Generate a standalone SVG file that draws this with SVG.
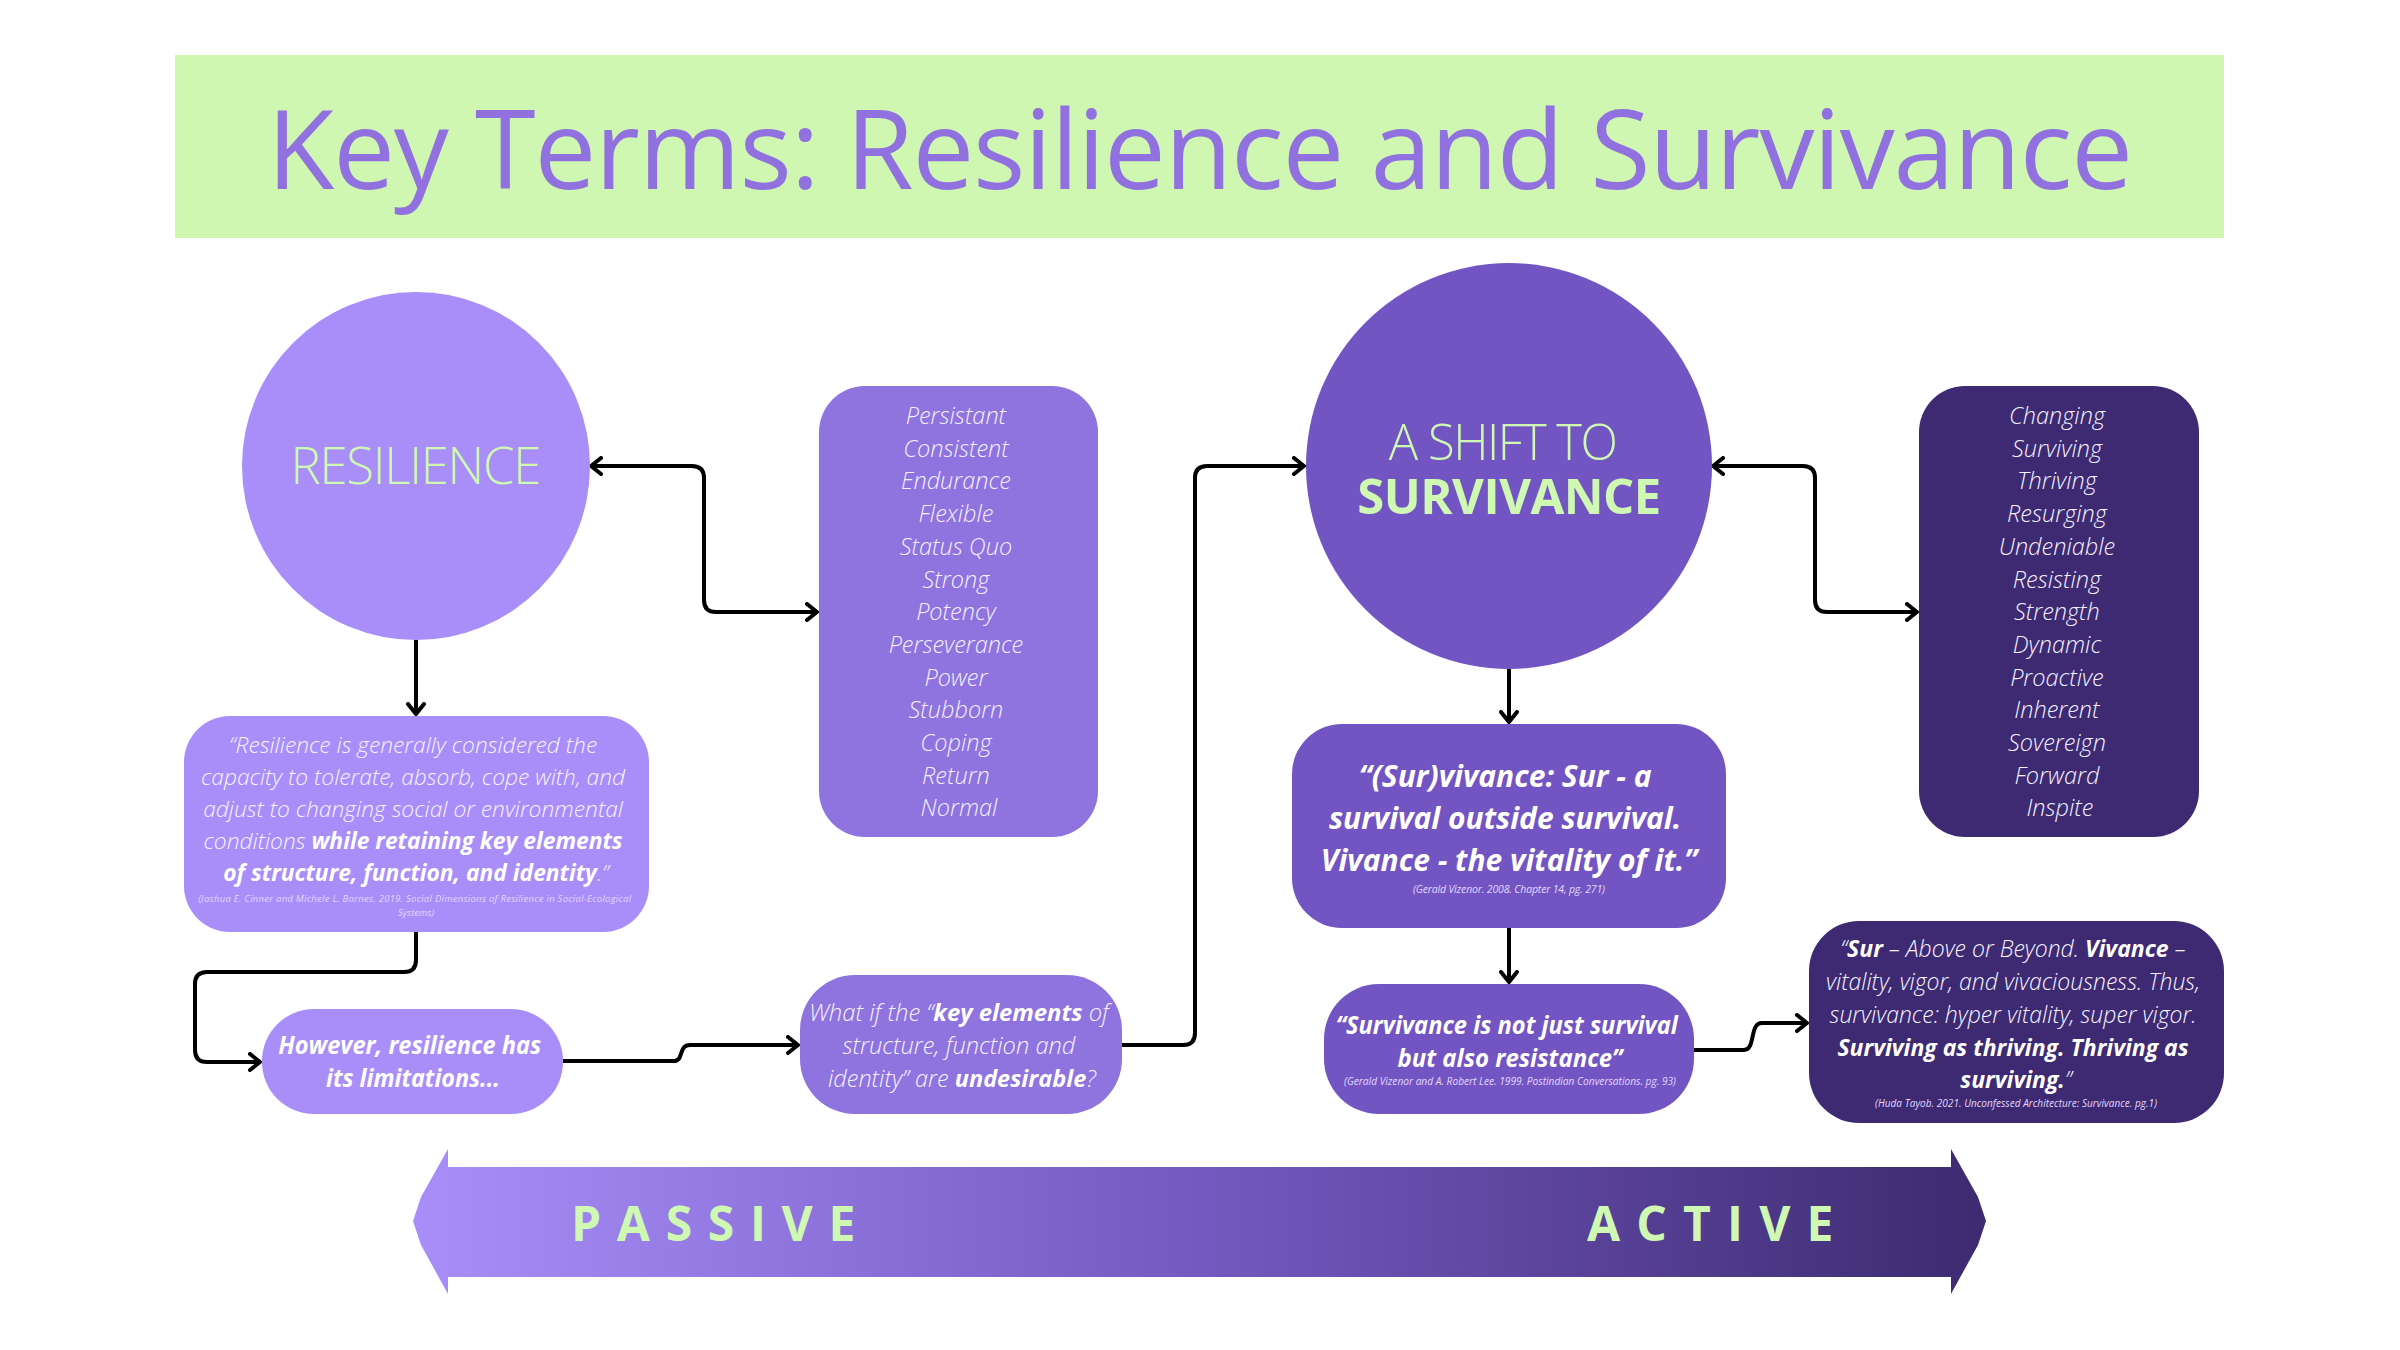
<svg xmlns="http://www.w3.org/2000/svg" width="2400" height="1350" viewBox="0 0 2400 1350">
<defs>
<style>
.f{font-family:'Open Sans','Liberation Sans',sans-serif}
.li{font-family:'Open Sans','Liberation Sans',sans-serif;font-style:italic;font-weight:300;fill:#f7f3ff}
.b{font-weight:700}
.bi{font-family:'Open Sans','Liberation Sans',sans-serif;font-style:italic;font-weight:700;fill:#ffffff}
.cit{font-family:'Open Sans','Liberation Sans',sans-serif;font-style:italic;font-weight:400;fill:#e2d8ff}
.adj{font-family:'Open Sans','Liberation Sans',sans-serif;font-style:italic;font-weight:300;fill:#f4f0ff;font-size:23.5px}
.green{fill:#cff8b2}
.conn{fill:none;stroke:#000;stroke-width:4;stroke-linejoin:round}
</style>
<marker id="ah" viewBox="0 0 14 20" refX="12" refY="10" markerWidth="14" markerHeight="20" markerUnits="userSpaceOnUse" orient="auto-start-reverse">
<path d="M2,2 L12,10 L2,18" fill="none" stroke="#000" stroke-width="4" stroke-linecap="round" stroke-linejoin="round"/>
</marker>
<linearGradient id="band" x1="0" y1="0" x2="1" y2="0">
<stop offset="0" stop-color="#a98ef9"/>
<stop offset="0.5" stop-color="#7459c0"/>
<stop offset="1" stop-color="#3d2a70"/>
</linearGradient>
</defs>
<rect width="2400" height="1350" fill="#ffffff"/>

<g id="title">
<rect x="175" y="55" width="2049" height="183" fill="#cff7b1"/>
<text class="f" x="1200" y="189" text-anchor="middle" font-size="110" fill="#9171df" textLength="1866">Key Terms: Resilience and Survivance</text>
</g>

<g id="connectors">
<path class="conn" d="M591,466 H692 Q704,466 704,478 V600 Q704,612 716,612 H817" marker-start="url(#ah)" marker-end="url(#ah)"/>
<path class="conn" d="M1713,466 H1803 Q1815,466 1815,478 V600 Q1815,612 1827,612 H1917" marker-start="url(#ah)" marker-end="url(#ah)"/>
<path class="conn" d="M416,640 V714" marker-end="url(#ah)"/>
<path class="conn" d="M416,932 V960 Q416,972 404,972 H207 Q195,972 195,984 V1050 Q195,1062 207,1062 H260" marker-end="url(#ah)"/>
<path class="conn" d="M563,1061 H674 C684,1061 678,1045 690,1045 H798" marker-end="url(#ah)"/>
<path class="conn" d="M1122,1045 H1183 Q1195,1045 1195,1033 V478 Q1195,466 1207,466 H1304" marker-end="url(#ah)"/>
<path class="conn" d="M1509,669 V722" marker-end="url(#ah)"/>
<path class="conn" d="M1509,928 V982" marker-end="url(#ah)"/>
<path class="conn" d="M1694,1050 H1744 C1756,1050 1749,1023 1762,1023 H1807" marker-end="url(#ah)"/>
</g>

<g id="resilience">
<circle cx="416" cy="466" r="174" fill="#a98ef9"/>
<text class="f green" x="416" y="484" text-anchor="middle" font-size="51" font-weight="300" textLength="251">RESILIENCE</text>
</g>

<g id="resilience-terms">
<rect x="819" y="386" width="279" height="451" rx="46" fill="#8f73df"/>
<text class="adj" text-anchor="middle">
<tspan x="959" y="424">Persistant</tspan>
<tspan x="959" y="457">Consistent</tspan>
<tspan x="959" y="489">Endurance</tspan>
<tspan x="959" y="522">Flexible</tspan>
<tspan x="959" y="555">Status Quo</tspan>
<tspan x="959" y="588">Strong</tspan>
<tspan x="959" y="620">Potency</tspan>
<tspan x="959" y="653">Perseverance</tspan>
<tspan x="959" y="686">Power</tspan>
<tspan x="959" y="718">Stubborn</tspan>
<tspan x="959" y="751">Coping</tspan>
<tspan x="959" y="784">Return</tspan>
<tspan x="959" y="816">Normal</tspan>
</text>
</g>

<g id="survivance">
<circle cx="1509" cy="466" r="203" fill="#7255c2"/>
<text class="f green" text-anchor="middle" font-size="49">
<tspan x="1509" y="460" font-weight="300" letter-spacing="-1.5">A SHIFT TO</tspan>
<tspan x="1509" y="514" font-weight="700" letter-spacing="-0.5">SURVIVANCE</tspan>
</text>
</g>

<g id="survivance-terms">
<rect x="1919" y="386" width="280" height="451" rx="46" fill="#3d2a72"/>
<text class="adj" text-anchor="middle">
<tspan x="2060" y="424">Changing</tspan>
<tspan x="2060" y="457">Surviving</tspan>
<tspan x="2060" y="489">Thriving</tspan>
<tspan x="2060" y="522">Resurging</tspan>
<tspan x="2060" y="555">Undeniable</tspan>
<tspan x="2060" y="588">Resisting</tspan>
<tspan x="2060" y="620">Strength</tspan>
<tspan x="2060" y="653">Dynamic</tspan>
<tspan x="2060" y="686">Proactive</tspan>
<tspan x="2060" y="718">Inherent</tspan>
<tspan x="2060" y="751">Sovereign</tspan>
<tspan x="2060" y="784">Forward</tspan>
<tspan x="2060" y="816">Inspite</tspan>
</text>
</g>

<g id="resilience-quote">
<rect x="184" y="716" width="465" height="216" rx="46" fill="#a98ef9"/>
<text class="li" font-size="22.8" text-anchor="middle">
<tspan x="416" y="753">“Resilience is generally considered the</tspan>
<tspan x="416" y="785">capacity to tolerate, absorb, cope with, and</tspan>
<tspan x="416" y="817">adjust to changing social or environmental</tspan>
<tspan x="416" y="849">conditions <tspan class="b" fill="#ffffff">while retaining key elements</tspan></tspan>
<tspan x="416" y="881"><tspan class="b" fill="#ffffff">of structure, function, and identity</tspan>.”</tspan>
</text>
<text class="cit" font-size="9.5" text-anchor="middle">
<tspan x="416" y="902" textLength="433">(Joshua E. Cinner and Michele L. Barnes. 2019. Social Dimensions of Resilience in Social-Ecological</tspan>
<tspan x="416" y="916">Systems)</tspan>
</text>
</g>

<g id="limitations">
<rect x="262" y="1009" width="301" height="105" rx="52" fill="#a98ef9"/>
<text class="bi" font-size="25" text-anchor="middle">
<tspan x="413" y="1054" textLength="263" lengthAdjust="spacingAndGlyphs">However, resilience has</tspan>
<tspan x="413" y="1087" textLength="174" lengthAdjust="spacingAndGlyphs">its limitations...</tspan>
</text>
</g>

<g id="what-if">
<rect x="800" y="975" width="322" height="139" rx="55" fill="#8f73df"/>
<text class="li" font-size="24" text-anchor="middle">
<tspan x="962" y="1021" textLength="300" lengthAdjust="spacingAndGlyphs">What if the “<tspan class="b" fill="#ffffff">key elements</tspan> of</tspan>
<tspan x="962" y="1054" textLength="233" lengthAdjust="spacingAndGlyphs">structure, function and</tspan>
<tspan x="962" y="1087" textLength="268" lengthAdjust="spacingAndGlyphs">identity” are <tspan class="b" fill="#ffffff">undesirable</tspan>?</tspan>
</text>
</g>

<g id="survivance-quote">
<rect x="1292" y="724" width="434" height="204" rx="50" fill="#7255c2"/>
<text class="bi" font-size="30" text-anchor="middle">
<tspan x="1509" y="787">“(Sur)vivance: Sur - a</tspan>
<tspan x="1509" y="829">survival outside survival.</tspan>
<tspan x="1509" y="871">Vivance - the vitality of it.”</tspan>
</text>
<text class="cit" font-size="10.5" text-anchor="middle" x="1509" y="893" textLength="192">(Gerald Vizenor. 2008. Chapter 14, pg. 271)</text>
</g>

<g id="resistance">
<rect x="1324" y="984" width="370" height="130" rx="55" fill="#7255c2"/>
<text class="bi" font-size="25" text-anchor="middle">
<tspan x="1510" y="1034" textLength="342" lengthAdjust="spacingAndGlyphs">“Survivance is not just survival</tspan>
<tspan x="1510" y="1067" textLength="225" lengthAdjust="spacingAndGlyphs">but also resistance”</tspan>
</text>
<text class="cit" font-size="10" text-anchor="middle" x="1510" y="1085" textLength="332" lengthAdjust="spacingAndGlyphs">(Gerald Vizenor and A. Robert Lee. 1999. Postindian Conversations. pg. 93)</text>
</g>

<g id="sur-vivance">
<rect x="1809" y="921" width="415" height="202" rx="50" fill="#3d2a72"/>
<text class="li" font-size="23" text-anchor="middle">
<tspan x="2016" y="957">“<tspan class="b" fill="#ffffff">Sur</tspan> – Above or Beyond. <tspan class="b" fill="#ffffff">Vivance</tspan> –</tspan>
<tspan x="2016" y="990">vitality, vigor, and vivaciousness. Thus,</tspan>
<tspan x="2016" y="1023">survivance: hyper vitality, super vigor.</tspan>
<tspan x="2016" y="1056" class="b" fill="#ffffff">Surviving as thriving. Thriving as</tspan>
<tspan x="2016" y="1088"><tspan class="b" fill="#ffffff">surviving.</tspan>”</tspan>
</text>
<text class="cit" font-size="10" text-anchor="middle" x="2016" y="1107" textLength="282">(Huda Tayob. 2021. Unconfessed Architecture: Survivance. pg.1)</text>
</g>

<g id="passive-active-scale">
<path d="M448,1167 L448,1149 L421,1197 L413,1221 L421,1245 L448,1294 L448,1277 L1951,1277 L1951,1294 L1978,1245 L1986,1221 L1978,1197 L1951,1149 L1951,1167 Z" fill="url(#band)"/>
<text class="f green" x="571" y="1241" font-size="48" font-weight="700" letter-spacing="15.7">PASSIVE</text>
<text class="f green" x="1587" y="1241" font-size="48" font-weight="700" letter-spacing="16.2">ACTIVE</text>
</g>
</svg>
